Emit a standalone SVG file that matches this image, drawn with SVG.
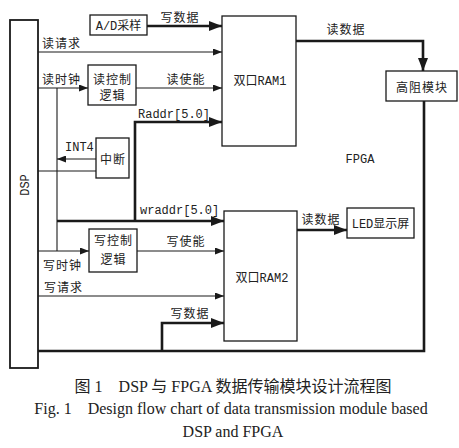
<svg xmlns="http://www.w3.org/2000/svg" width="459" height="448" viewBox="0 0 459 448">
<style>
.box{fill:#fff;stroke:#1a1a1a;stroke-width:1.3}
.thin{fill:none;stroke:#1a1a1a;stroke-width:1.1}
.thick{fill:none;stroke:#1a1a1a;stroke-width:2.6}
.t{font-family:"Liberation Mono","Noto Sans CJK SC",monospace;font-size:12px;fill:#222}
.cn{font-family:"Noto Sans CJK SC",sans-serif;font-size:12px;fill:#222;letter-spacing:1px}
.cap{font-family:"Liberation Serif","Noto Sans CJK SC",serif;font-size:16px;fill:#222}
</style>
<defs>
<marker id="ah" markerUnits="userSpaceOnUse" markerWidth="9" markerHeight="7" refX="9" refY="3.5" orient="auto"><path d="M0,0 L9,3.5 L0,7 z" fill="#1a1a1a"/></marker>
<marker id="AH" markerUnits="userSpaceOnUse" markerWidth="13" markerHeight="10" refX="13" refY="5" orient="auto"><path d="M0,0 L13,5 L0,10 z" fill="#1a1a1a"/></marker>
</defs>
<rect width="459" height="448" fill="#fff"/>

<g id="connectors">
<path class="thick" d="M147,26 H222" marker-end="url(#AH)"/>
<path class="thin" d="M38,52 H222" marker-end="url(#ah)"/>
<path class="thin" d="M38,88 H88" marker-end="url(#ah)"/>
<path class="thin" d="M136,88 H222" marker-end="url(#ah)"/>
<path class="thin" d="M57,88 V251"/>
<path class="thick" d="M135,221 V122 H222" marker-end="url(#AH)"/>
<path class="thin" d="M96,159 H57" marker-end="url(#ah)"/>
<path class="thin" d="M38,171 H96"/>
<path class="thick" d="M57,221 H224" marker-end="url(#AH)"/>
<path class="thin" d="M38,251 H89" marker-end="url(#ah)"/>
<path class="thin" d="M137,251 H224" marker-end="url(#ah)"/>
<path class="thin" d="M38,296 H224" marker-end="url(#ah)"/>
<path class="thick" d="M162,351 V323 H224" marker-end="url(#AH)"/>
<path class="thick" d="M38,351 H424 V101"/>
<path class="thick" d="M296,41 H423 V71" marker-end="url(#AH)"/>
<path class="thick" d="M297,230 H347" marker-end="url(#AH)"/>
<text class="cn" x="180" y="22" text-anchor="middle">写数据</text>
<text class="cn" x="42" y="48">读请求</text>
<text class="cn" x="42" y="84">读时钟</text>
<text class="cn" x="186" y="84" text-anchor="middle">读使能</text>
<text class="t" x="138" y="118">Raddr[5.0]</text>
<text class="t" x="65" y="151">INT4</text>
<text class="t" x="140" y="214">wraddr[5.0]</text>
<text class="cn" x="186" y="246" text-anchor="middle">写使能</text>
<text class="cn" x="43" y="270">写时钟</text>
<text class="cn" x="44" y="292">写请求</text>
<text class="cn" x="190" y="318" text-anchor="middle">写数据</text>
<text class="cn" x="346" y="34" text-anchor="middle">读数据</text>
<text class="cn" x="321" y="224" text-anchor="middle">读数据</text>
<text class="t" x="360" y="163" text-anchor="middle">FPGA</text>
</g>

<g id="dsp">
<rect x="10" y="20" width="28" height="348" fill="#fff" stroke="#1a1a1a" stroke-width="1.8"/>
<text class="t" transform="translate(29,185) rotate(-90)" text-anchor="middle">DSP</text>
</g>
<g id="ad">
<rect class="box" x="90" y="15" width="57" height="20"/>
<text class="t" x="118.5" y="29.5" text-anchor="middle">A/D采样</text>
</g>
<g id="ram1">
<rect class="box" x="222" y="16" width="74" height="130"/>
<text class="t" x="260" y="85" text-anchor="middle">双口RAM1</text>
</g>
<g id="rdctl">
<rect class="box" x="88" y="65" width="48" height="40"/>
<text class="cn" x="112.5" y="84" text-anchor="middle">读控制</text>
<text class="cn" x="112.5" y="100" text-anchor="middle">逻辑</text>
</g>
<g id="int">
<rect class="box" x="96" y="138" width="33" height="40"/>
<text class="cn" x="113" y="164" text-anchor="middle">中断</text>
</g>
<g id="hiz">
<rect class="box" x="386" y="71" width="71" height="30"/>
<text class="cn" x="422" y="92" text-anchor="middle">高阻模块</text>
</g>
<g id="wrctl">
<rect class="box" x="89" y="229" width="48" height="43"/>
<text class="cn" x="113.5" y="245" text-anchor="middle">写控制</text>
<text class="cn" x="113.5" y="264" text-anchor="middle">逻辑</text>
</g>
<g id="ram2">
<rect class="box" x="224" y="211" width="73" height="130"/>
<text class="t" x="262" y="282" text-anchor="middle">双口RAM2</text>
</g>
<g id="led">
<rect class="box" x="347" y="208" width="67" height="30"/>
<text class="t" x="380.5" y="228" text-anchor="middle">LED显示屏</text>
</g>

<g id="caption">
<text class="cap" x="233" y="392" text-anchor="middle">图 1　DSP 与 FPGA 数据传输模块设计流程图</text>
<text class="cap" x="231" y="414" text-anchor="middle">Fig. 1　Design flow chart of data transmission module based</text>
<text class="cap" x="233" y="437" text-anchor="middle">DSP and FPGA</text>
</g>
</svg>
